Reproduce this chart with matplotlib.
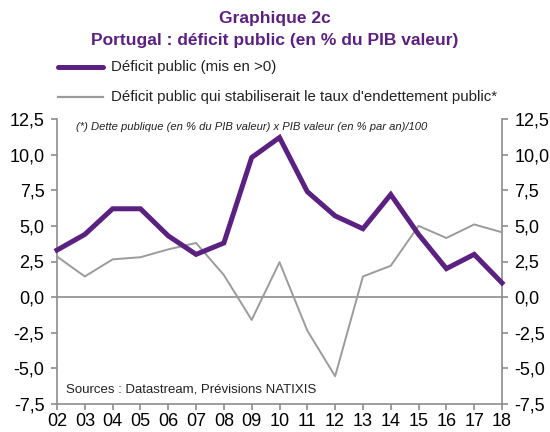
import numpy as np
import matplotlib
matplotlib.use('Agg')
from matplotlib import pyplot as plt

plt.rcParams['font.family'] = ['Liberation Sans', 'DejaVu Sans']

#data (% of GDP)
years = ['02', '03', '04', '05', '06', '07', '08', '09', '10',
         '11', '12', '13', '14', '15', '16', '17', '18']
deficit = [3.3, 4.4, 6.2, 6.2, 4.3, 3.0, 3.8, 9.8, 11.2,
           7.4, 5.7, 4.8, 7.2, 4.4, 2.0, 3.0, 1.0]
stabilising = [2.85, 1.45, 2.65, 2.8, 3.35, 3.8, 1.55, -1.6, 2.45,
               -2.35, -5.55, 1.45, 2.2, 5.0, 4.15, 5.1, 4.55]

purple = '#5B2181'
grey_line = '#9B9B9B'
grey_axis = '#8C8C8C'

x = np.arange(len(years))

fig = plt.figure(figsize=(5.5, 4.32), dpi=100)
ax = fig.add_axes([57/550, 28/432, 445/550, 285/432])

ax.plot(x, stabilising, color=grey_line, lw=1.4, clip_on=False, zorder=3)
ax.plot(x, deficit, color=purple, lw=3.6, clip_on=False, zorder=4,
        solid_joinstyle='miter')
ax.axhline(0, color=grey_axis, lw=1.2, zorder=2)

ax.set_xlim(0, len(years) - 1)
ax.set_ylim(-7.5, 12.5)
yt = np.arange(-7.5, 12.6, 2.5)
ax.set_yticks(yt)
ax.set_yticklabels([('%.1f' % v).replace('.', ',') for v in yt])
ax.set_xticks(x)
ax.set_xticklabels(years)

ax.spines['top'].set_visible(False)
for s in ['left', 'right', 'bottom']:
    ax.spines[s].set_color(grey_axis)
    ax.spines[s].set_linewidth(1.2)
ax.tick_params(axis='y', which='both', left=True, right=True,
               labelleft=True, labelright=True, direction='out',
               length=4, width=1.2, color=grey_axis, labelsize=13, pad=5)
ax.tick_params(axis='x', direction='out', length=4, width=1.2,
               color=grey_axis, labelsize=13, pad=2.5)

#notes inside the plot
fig.text(76/550, 1 - 127/432, '(*) Dette publique (en % du PIB valeur) x PIB valeur (en % par an)/100',
         fontsize=8.1, style='italic', va='center', ha='left', color='#222222')
fig.text(66/550, 1 - 389/432, 'Sources : Datastream, Prévisions NATIXIS',
         fontsize=9.5, va='center', ha='left', color='#222222')

#title
fig.text(0.5, 1 - 18/432, 'Graphique 2c', ha='center', va='center',
         fontsize=12.5, fontweight='bold', color=purple)
fig.text(0.5, 1 - 40/432, 'Portugal : déficit public (en % du PIB valeur)',
         ha='center', va='center', fontsize=12.5, fontweight='bold', color=purple)

#legend drawn by hand
fig.add_artist(plt.Line2D([58/550, 103/550], [1 - 67/432, 1 - 67/432],
                          color=purple, lw=3.6, solid_capstyle='round'))
fig.text(111/550, 1 - 67/432, 'Déficit public (mis en >0)', va='center',
         fontsize=10.8, color='#222222')
fig.add_artist(plt.Line2D([58/550, 103/550], [1 - 97/432, 1 - 97/432],
                          color=grey_line, lw=1.6))
fig.text(111/550, 1 - 97/432, "Déficit public qui stabiliserait le taux d'endettement public*",
         va='center', fontsize=10.8, color='#222222')

plt.savefig('out.png', dpi=100)
